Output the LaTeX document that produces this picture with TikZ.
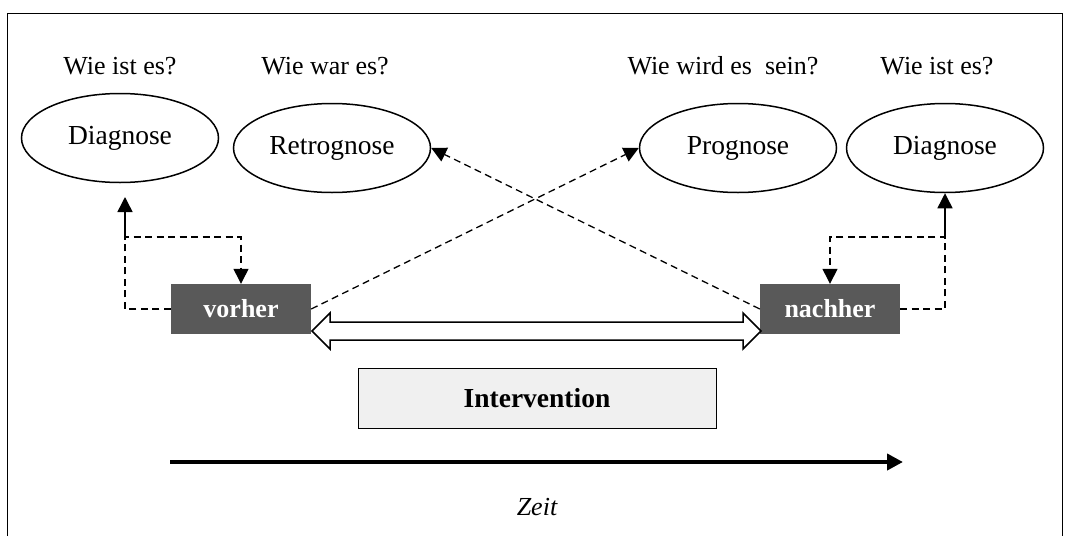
\documentclass[tikz,border=0pt]{standalone}
\usepackage{fontspec}
\setmainfont{Liberation Serif}
\usetikzlibrary{shapes.geometric,arrows.meta}
\definecolor{boxgray}{RGB}{89,89,89}
\definecolor{intgray}{RGB}{240,240,240}
\begin{document}
\begin{tikzpicture}[x=1pt,y=-1pt,
  question/.style={font=\fontsize{26}{30}\selectfont, inner sep=0},
  oval/.style={draw, ellipse, line width=1.5pt, inner sep=0, minimum width=197pt, minimum height=89pt, font=\fontsize{27.5}{32}\selectfont},
  timebox/.style={fill=boxgray, text=white, font=\fontsize{26}{30}\selectfont\bfseries, minimum width=140pt, minimum height=50pt, inner sep=0},
  dashline/.style={line width=1.3pt, dash pattern=on 7pt off 4.5pt},
  tip/.style={-{Triangle[length=15pt,width=15pt]}},
]
\useasboundingbox (0,0) rectangle (1068,536);
% frame
\draw[line width=1pt] (7,536) -- (7,13) -- (1062,13) -- (1062,536);

% questions
\node[question] (q1) at (120,66) {Wie ist es?};
\node[question] (q2) at (325,66) {Wie war es?};
\node[question] (q3) at (723,66) {Wie wird es\ \ sein?};
\node[question] (q4) at (937,66) {Wie ist es?};

% ellipses
\node[oval] (dl) at (120,138) {Diagnose};
\node[oval] (retro) at (332,148) {Retrognose};
\node[oval] (prog) at (738,148) {Prognose};
\node[oval] (dr) at (945,148) {Diagnose};

% time boxes
\node[timebox] (vorher) at (241,309) {vorher};
\node[timebox] (nachher) at (830,309) {nachher};

% intervention
\node[draw, fill=intgray, line width=1pt, minimum width=358pt, minimum height=60pt, inner sep=0,
      font=\fontsize{27.5}{32}\selectfont\bfseries] (int) at (537,398) {Intervention};

% double arrow between vorher and nachher
\draw[line width=1.5pt, fill=white] (312,331) -- (330,313) -- (330,322) -- (743,322) -- (743,313)
  -- (761,331) -- (743,349) -- (743,340) -- (330,340) -- (330,349) -- cycle;

% left loop
\coordinate (L1) at (125,237);
\draw[dashline, tip] (vorher.west) -| (L1) -| (vorher.north);
\draw[line width=1.5pt, tip] (L1) -- (125,197);

% right loop
\coordinate (R1) at (945,237);
\draw[dashline, tip] (nachher.east) -| (R1) -| (nachher.north);
\draw[line width=1.5pt, tip] (R1) -- (dr.south);

% crossing dashed arrows
\draw[dashline, tip] (vorher.east) -- (prog.west);
\draw[dashline, tip] (nachher.west) -- (retro.east);

% time axis
\coordinate (t0) at (170,462);
\coordinate (t1) at (903,462);
\draw[line width=4.5pt, -{Triangle[length=16pt,width=16pt]}] (t0) -- (t1);
\node[font=\fontsize{26}{30}\selectfont\itshape, inner sep=0] (zeit) at (537,507) {Zeit};
\end{tikzpicture}
\end{document}
